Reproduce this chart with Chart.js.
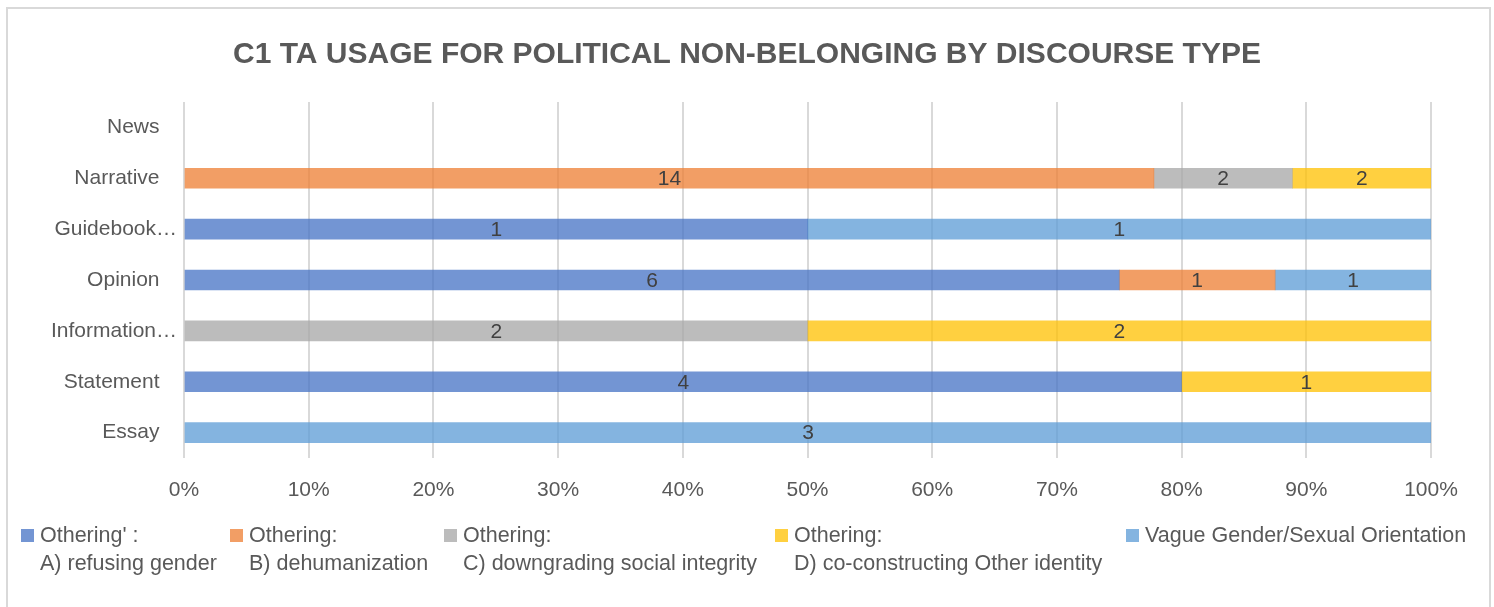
<!DOCTYPE html>
<html>
<head>
<meta charset="utf-8">
<script src="https://cdn.jsdelivr.net/npm/chart.js@4/dist/chart.umd.min.js"></script>
<style>
  html, body { margin: 0; padding: 0; background: #ffffff; }
  #wrap { position: relative; width: 1494px; height: 607px; overflow: hidden; }
  #frame { position: absolute; left: 6px; top: 7px; width: 1481px; height: 620px; border: 2px solid #D9D9D9; box-sizing: content-box; }
  canvas { position: absolute; left: 0; top: 0; }
  #legend { position: absolute; left: 0; top: 0; width: 1494px; height: 607px; pointer-events: none;
            font-family: 'Liberation Sans', Arial, sans-serif; font-size: 21.5px; color: #595959; }
  .lg-item { position: absolute; white-space: nowrap; line-height: 28px; }
  .lg-sw { position: absolute; width: 13px; height: 13px; }
</style>
</head>
<body>
<div id="wrap">
  <div id="frame"></div>
  <canvas id="c" width="1494" height="607"></canvas>
  <div id="legend"></div>
</div>
<script>
// ---- data ----
const categories = ['News', 'Narrative', 'Guidebook…', 'Opinion', 'Information…', 'Statement', 'Essay'];
const seriesLabels = [
  ["Othering' :", 'A) refusing gender'],
  ['Othering:', 'B) dehumanization'],
  ['Othering:', 'C) downgrading social integrity'],
  ['Othering:', 'D) co-constructing Other identity'],
  ['Vague Gender/Sexual Orientation']
];
const refusingGender          = [0, 0, 1, 6, 0, 4, 0];
const dehumanization          = [0, 14, 0, 1, 0, 0, 0];
const downgradingIntegrity    = [0, 2, 0, 0, 2, 0, 0];
const coConstructingOther     = [0, 2, 0, 0, 2, 1, 0];
const vagueGenderOrientation  = [0, 0, 1, 1, 0, 0, 3];
const xTickValues = [0, 10, 20, 30, 40, 50, 60, 70, 80, 90, 100];
const chartTitle = 'C1 TA USAGE FOR POLITICAL NON-BELONGING BY DISCOURSE TYPE';

// ---- styling ----
const seriesColors = [
  'rgba(68,114,196,0.75)',
  'rgba(237,125,49,0.75)',
  'rgba(165,165,165,0.75)',
  'rgba(255,192,0,0.75)',
  'rgba(91,155,213,0.75)'
];
const FONT = "'Liberation Sans', Arial, sans-serif";

const seriesValues = [refusingGender, dehumanization, downgradingIntegrity, coConstructingOther, vagueGenderOrientation];
const totals = categories.map((_, i) => seriesValues.reduce((s, arr) => s + arr[i], 0));

const datasets = seriesValues.map((vals, k) => ({
  label: seriesLabels[k].join(' '),
  data: vals.map((v, i) => (totals[i] && v) ? v / totals[i] * 100 : null),
  counts: vals,
  backgroundColor: seriesColors[k],
  borderWidth: 0,
  barThickness: 20
}));

const titlePlugin = {
  id: 'centeredTitle',
  afterDraw(chart) {
    const ctx = chart.ctx;
    ctx.save();
    ctx.font = 'bold 30px ' + FONT;
    ctx.fillStyle = '#595959';
    ctx.textAlign = 'center';
    ctx.textBaseline = 'middle';
    ctx.fillText(chartTitle, chart.width / 2, 55);
    ctx.restore();
  }
};

const dataLabelPlugin = {
  id: 'segLabels',
  afterDatasetsDraw(chart) {
    const ctx = chart.ctx;
    ctx.save();
    ctx.font = '21px ' + FONT;
    ctx.fillStyle = '#404040';
    ctx.textAlign = 'center';
    ctx.textBaseline = 'middle';
    chart.data.datasets.forEach((ds, di) => {
      const meta = chart.getDatasetMeta(di);
      meta.data.forEach((el, i) => {
        const c = ds.counts[i];
        if (!c) return;
        const x = (el.x + el.base) / 2;
        ctx.fillText(String(c), x, el.y + 1);
      });
    });
    ctx.restore();
  }
};

new Chart(document.getElementById('c'), {
  type: 'bar',
  data: { labels: categories, datasets },
  plugins: [dataLabelPlugin, titlePlugin],
  options: {
    indexAxis: 'y',
    responsive: false,
    animation: false,
    layout: { padding: { left: 0, right: 63, top: 102, bottom: 99 } },
    plugins: {
      legend: { display: false },
      tooltip: { enabled: false },
      title: { display: false }
    },
    scales: {
      x: {
        stacked: true,
        min: 0, max: 100,
        afterBuildTicks(scale) { scale.ticks = xTickValues.map(v => ({ value: v })); },
        afterFit(scale) { scale.height = 50; },
        ticks: {
          callback: v => v + '%',
          color: '#595959',
          font: { family: FONT, size: 21 },
          padding: 20,
          maxRotation: 0
        },
        grid: { color: '#D9D9D9', lineWidth: 2, drawTicks: false },
        border: { display: false }
      },
      y: {
        stacked: true,
        afterFit(scale) { scale.width = 184; },
        ticks: {
          color: '#595959',
          font: { family: FONT, size: 21 },
          padding: 7,
          callback(value) {
            const l = this.getLabelForValue(value);
            return l.endsWith('…') ? l : l + '   ';
          }
        },
        grid: { display: false, drawTicks: false },
        border: { display: false }
      }
    }
  }
});

// ---- HTML legend ----
const legendX = [21, 230, 444, 775, 1126];
const lg = document.getElementById('legend');
seriesLabels.forEach((lines, k) => {
  const sw = document.createElement('div');
  sw.className = 'lg-sw';
  sw.style.left = legendX[k] + 'px';
  sw.style.top = '529px';
  sw.style.background = seriesColors[k];
  lg.appendChild(sw);
  lines.forEach((t, j) => {
    const d = document.createElement('div');
    d.className = 'lg-item';
    d.style.left = (legendX[k] + 19) + 'px';
    d.style.top = (521 + j * 28) + 'px';
    d.textContent = t;
    lg.appendChild(d);
  });
});
</script>
</body>
</html>
